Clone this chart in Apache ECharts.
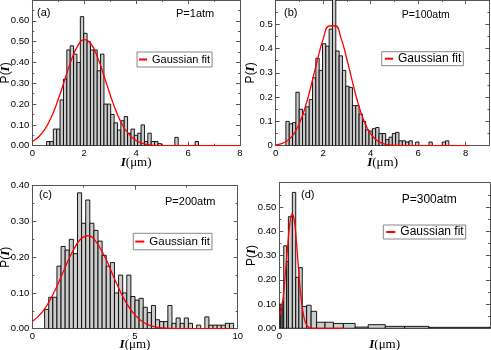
<!DOCTYPE html>
<html><head><meta charset="utf-8">
<script src="https://cdn.jsdelivr.net/npm/echarts@6/dist/echarts.min.js"></script>
<style>html,body{margin:0;padding:0;background:#fff}#c{width:491px;height:350px}</style>
</head><body><div id="c"></div>
<script>
// ---------- DATA ----------
// (a) P=1atm histogram
const binStartA = 0.55, binWidthA = 0.13;
const heightsA = [0.02,0.02,0.08,0.08,0.22,0.32,0.46,0.48,0.44,0.40,0.62,0.54,0.50,0.46,0.46,0.36,0.44,0.20,0.20,0.15,0.11,0.075,0.12,0.14,0.06,0.08,0.05,0.06,0.10,0.02,0.06,0.02,0.02,0.01,0,0,0,0,0.04,0,0,0,0,0,0.02];
const fitXA = [0,0.25,0.5,0.75,1,1.25,1.5,1.75,2,2.25,2.5,2.75,3,3.25,3.5,3.75,4,4.25,4.5,4.75,5,6,8];
const fitYA = [0.02,0.043,0.082,0.142,0.223,0.317,0.41,0.48,0.51,0.491,0.429,0.34,0.245,0.159,0.094,0.051,0.025,0.011,0.004,0.0015,0.0005,0,0];

// (b) P=100atm histogram
const binStartB = 0.43, binWidthB = 0.14;
const heightsB = [0.10,0.09,0.095,0.22,0.15,0.13,0.16,0.19,0.28,0.36,0.31,0.42,0.41,0.48,0.62,0.39,0.37,0.31,0.245,0.24,0.165,0.165,0.13,0.10,0.065,0.06,0.07,0.075,0.05,0.05,0.025,0.035,0.05,0.055,0.02,0.02,0.015,0.02,0,0.015,0,0,0,0.015,0,0,0,0.015,0.02];
const fitXB = [0,0.25,0.5,0.75,1,1.25,1.5,1.75,2,2.25,2.5,2.75,3,3.25,3.5,3.75,4,4.25,4.5,4.75,5,6,8.1];
const fitYB = [0.0033,0.0089,0.0216,0.047,0.092,0.161,0.251,0.351,0.44,0.493,0.494,0.443,0.355,0.255,0.164,0.094,0.049,0.022,0.0092,0.0034,0.001,0,0];

// (c) P=200atm histogram
const binStartC = 0.6, binWidthC = 0.2;
const heightsC = [0.054,0.088,0.088,0.175,0.23,0.22,0.25,0.21,0.38,0.295,0.36,0.295,0.275,0.245,0.205,0.175,0.185,0.10,0.15,0.10,0.15,0.09,0.08,0.085,0.06,0.045,0.065,0.025,0.02,0.02,0.065,0.015,0.03,0.015,0.03,0.015,0,0.01,0,0.033,0.01,0.01,0.01,0.01,0.015,0.015];
const fitXC = [0,0.5,1,1.5,2,2.5,2.75,3,3.5,4,4.5,5,5.5,6,6.5,7,9.7];
const fitYC = [0.02,0.048,0.095,0.158,0.22,0.257,0.26,0.251,0.205,0.14,0.08,0.038,0.015,0.005,0.0014,0.0003,0];

// (d) P=300atm histogram (variable bins)
const binEdgesD = [0,0.07,0.14,0.21,0.35,0.43,0.62,0.78,0.93,1.09,1.30,1.51,1.77,2.17,2.57,3.04,3.60,4.22,5.03,5.95,7.10,10.0];
const heightsD = [0.10,0.08,0.11,0.34,0.275,0.46,0.56,0.21,0.25,0.09,0.095,0.07,0.025,0.025,0.02,0.02,0.005,0.015,0.008,0.008,0.004];
const fitXD = [0,0.1,0.2,0.3,0.4,0.5,0.6,0.7,0.8,0.9,1.0,1.1,1.2,1.3,1.4,1.5,1.7,3.1];
const fitYD = [0.05,0.08,0.14,0.24,0.34,0.43,0.47,0.45,0.37,0.26,0.155,0.08,0.035,0.013,0.004,0.001,0,0];

const panelTags = ['(a)','(b)','(c)','(d)'];
const pressures = ['P=1atm','P=100atm','P=200atm','P=300atm'];
const fitName = 'Gaussian fit';

// ---------- BUILD ----------
function uniformBins(start, w, hs){
  const out=[]; hs.forEach((h,i)=>{ if(h>0) out.push([start+i*w, start+(i+1)*w, h]); }); return out;
}
function edgeBins(edges, hs){
  const out=[]; hs.forEach((h,i)=>{ if(h>0) out.push([edges[i], edges[i+1], h]); }); return out;
}
function zip(xs, ys){ return xs.map((x,i)=>[x, ys[i]]); }

const barsA = uniformBins(binStartA, binWidthA, heightsA);
const barsB = uniformBins(binStartB, binWidthB, heightsB);
const barsC = uniformBins(binStartC, binWidthC, heightsC);
const barsD = edgeBins(binEdgesD, heightsD);

const FONT = 'Liberation Sans, Arial, sans-serif';
const AXC = '#555';

function renderBar(params, api){
  const p0 = api.coord([api.value(0), api.value(2)]);
  const p1 = api.coord([api.value(1), 0]);
  return {type:'rect', shape:{x:p0[0], y:p0[1], width:p1[0]-p0[0], height:p1[1]-p0[1]},
          style:{fill:'#cccccc', stroke:'#000', lineWidth:0.9}};
}

const grids = [
  {left:32.3, top:0, width:207.7, height:145.7},
  {left:275.7, top:0, width:213.8, height:145.7},
  {left:32.3, top:185.7, width:205.4, height:143},
  {left:279.3, top:182.7, width:210.7, height:145.6}
].map(g=>Object.assign({outerBoundsMode:'none', containLabel:false}, g));

const xName = '{i|I}{n|(μm)}';
const yName = '{n|P(}{i|I}{n|)}';
const xNameStyle = {rich:{i:{fontFamily:'Liberation Serif, serif', fontStyle:'italic', fontWeight:'bold', fontSize:13, color:'#000'},
                         n:{fontFamily:'Liberation Serif, serif', fontSize:13, color:'#000'}}};
const yNameStyle = {rich:{i:{fontFamily:'Liberation Serif, serif', fontStyle:'italic', fontWeight:'bold', fontSize:13, color:'#000'},
                         n:{fontFamily:FONT, fontSize:12, color:'#000'}}};

function xAxes(gi, min, max, interval, fmt, opt){
  opt = opt || {};
  const base = {type:'value', gridIndex:gi, min, max, interval,
    axisLine:{show:true, onZero:false, lineStyle:{color:AXC, width:1}},
    splitLine:{show:false}};
  const bottom = Object.assign({}, base, {position:'bottom',
    name:xName, nameLocation:'middle', nameGap:opt.nameGap, nameMoveOverlap:false, nameTextStyle:xNameStyle,
    axisTick:{show:opt.ticks!==false, inside:true, length:4, lineStyle:{color:AXC}},
    minorTick:{show:opt.minor!==false, splitNumber:2, length:2, lineStyle:{color:AXC}},
    axisLabel:{show:true, margin:3, fontFamily:FONT, fontSize:9.5, color:'#000', formatter:fmt, showMaxLabel:opt.showMax!==false}});
  const top = Object.assign({}, base, {position:'top',
    axisTick:{show:opt.ticks!==false, inside:true, length:4, lineStyle:{color:AXC}},
    minorTick:{show:opt.minor!==false, splitNumber:2, length:2, lineStyle:{color:AXC}},
    axisLabel:{show:false}});
  return [bottom, top];
}
function yAxes(gi, min, max, interval, fmt, opt){
  opt = opt || {};
  const base = {type:'value', gridIndex:gi, min, max, interval,
    axisLine:{show:true, onZero:false, lineStyle:{color:AXC, width:1}},
    splitLine:{show:false},
    axisTick:{show:true, inside:true, length:4, lineStyle:{color:AXC}},
    minorTick:{show:true, splitNumber:2, length:2, lineStyle:{color:AXC}}};
  const left = Object.assign({}, base, {position:'left',
    name:yName, nameLocation:'middle', nameGap:opt.nameGap, nameMoveOverlap:false, nameTextStyle:yNameStyle,
    axisLabel:{show:true, margin:3, fontFamily:FONT, fontSize:9.5, color:'#000', formatter:fmt, showMaxLabel:opt.showMax===true}});
  const right = Object.assign({}, base, {position:'right', axisLabel:{show:false}});
  return [left, right];
}
const f2 = v => v.toFixed(2);
const f1 = v => (v===0 ? '0' : v.toFixed(1));
const fi = v => String(Math.round(v));

const xAxis = [].concat(
  xAxes(0, 0, 8, 2, fi, {nameGap:10}),
  xAxes(1, 0, 9, 2, fi, {nameGap:10, showMax:false}),
  xAxes(2, 0, 10, 5, fi, {nameGap:9.5}),
  xAxes(3, 0, 10, 10, v => (v===0?'0':''), {nameGap:10, ticks:false, minor:false, showMax:false})
);
const yAxis = [].concat(
  yAxes(0, 0, 0.7, 0.1, f2, {nameGap:20.5}),
  yAxes(1, 0, 0.6, 0.1, f1, {nameGap:19}),
  yAxes(2, 0, 0.4, 0.1, f2, {nameGap:20.5, showMax:true}),
  yAxes(3, 0, 0.6, 0.1, f2, {nameGap:21.5})
);

const barSets = [barsA, barsB, barsC, barsD];
const fitSets = [zip(fitXA,fitYA), zip(fitXB,fitYB), zip(fitXC,fitYC), zip(fitXD,fitYD)];
const series = [];
barSets.forEach((bars, k)=>{
  series.push({type:'custom', name:'hist'+k, xAxisIndex:2*k, yAxisIndex:2*k, data:bars,
    encode:{x:[0,1], y:2}, renderItem:renderBar, clip:true, z:2, silent:true});
  series.push({type:'line', name:fitName, xAxisIndex:2*k, yAxisIndex:2*k, data:fitSets[k],
    showSymbol:false, smooth:0.5, clip:true, z:3,
    lineStyle:{color:'#ff0000', width:1.3}, itemStyle:{color:'#ff0000'}});
});

function legendAt(left, top, fontSize, itemWidth, padL, lh){
  return {show:true, data:[fitName], left, top, orient:'horizontal',
    icon:'rect', itemWidth, itemHeight:2, padding:[1,2,1,padL],
    borderColor:'#888', borderWidth:1, backgroundColor:'#fff', selectedMode:false,
    textStyle:{fontFamily:FONT, fontSize, color:'#000', lineHeight:lh}};
}
const legend = [
  legendAt(137, 52, 11, 8, 2, 13),
  legendAt(381.7, 51.7, 12, 8, 3.3, 12),
  legendAt(133.3, 233.3, 11.5, 9, 2, 14.5),
  legendAt(383.3, 225, 12, 9, 3, 11.5)
];

function txt(x, y, s, size){
  return {type:'text', x, y, style:{text:s, font:size+'px '+FONT, fill:'#000', textVerticalAlign:'middle'}};
}
const graphic = [
  txt(37, 12.5, panelTags[0], 11), txt(176, 14.3, pressures[0], 11),
  txt(284, 12.5, panelTags[1], 11), txt(401.7, 15, pressures[1], 10.5),
  txt(39, 195, panelTags[2], 11), txt(165, 201.7, pressures[2], 11),
  txt(301, 195, panelTags[3], 11), txt(401.7, 199.3, pressures[3], 12)
];

const chart = echarts.init(document.getElementById('c'), null, {renderer:'canvas'});
chart.setOption({animation:false, backgroundColor:'#fff', grid:grids, xAxis, yAxis, series, legend, graphic});
</script></body></html>
